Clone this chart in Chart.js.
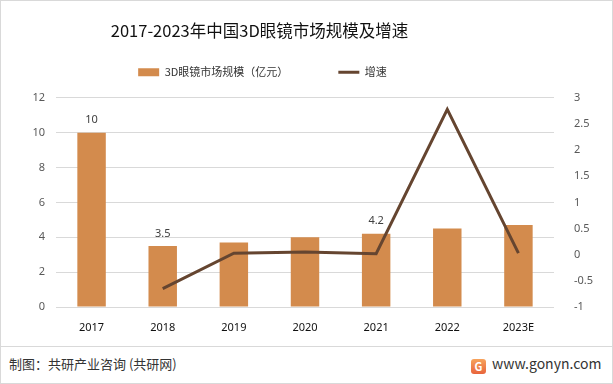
<!DOCTYPE html>
<html>
<head>
<meta charset="utf-8">
<script src="https://cdn.jsdelivr.net/npm/chart.js@4"></script>
<style>
  body { margin: 0; background: #fff; }
  .wrap { position: relative; width: 611px; height: 382px; border: 1px solid #d9d9d9; overflow: hidden; font-family: "Noto Sans CJK SC", "Noto Sans", sans-serif; }
  #box { position: absolute; left: 0; top: 0; width: 611px; height: 340px; }
  .sep { position: absolute; left: 0; right: 0; top: 345px; border-top: 1px solid #d9d9d9; }
  .src { position: absolute; left: 8px; top: 353px; font-size: 13px; color: #333; }
  .site { position: absolute; left: 470px; top: 352px; font-size: 14px; color: #333; }
  .logo { display: inline-block; width: 15px; height: 15px; border-radius: 3px; background: linear-gradient(#f7a35c, #e8643c); color: #fff; font-size: 11px; line-height: 15px; text-align: center; font-weight: bold; margin-right: 6px; vertical-align: -2px; }
</style>
</head>
<body>
<div class="wrap">
  <div id="box"><canvas id="myChart"></canvas></div>
  <div class="sep"></div>
  <div class="src">制图：共研产业咨询 (共研网)</div>
  <div class="site"><span class="logo">G</span>www.gonyn.com</div>
</div>
<script>
const years = ['2017', '2018', '2019', '2020', '2021', '2022', '2023E'];
const marketSize = [10, 3.5, 3.7, 4.0, 4.2, 4.5, 4.7];
const growth = [null, -0.65, 0.03, 0.05, 0.02, 2.78, 0.03];
const shownLabels = [true, true, false, false, true, false, false];
const leftTicks = [0, 2, 4, 6, 8, 10, 12];
const rightTicks = [-1, -0.5, 0, 0.5, 1, 1.5, 2, 2.5, 3];

// etiquetas de valor sobre algunas barras
const barLabels = {
  id: 'barLabels',
  afterDatasetsDraw(chart) {
    const ctx = chart.ctx;
    const meta = chart.getDatasetMeta(1);
    ctx.save();
    ctx.font = '11px "Noto Sans", sans-serif';
    ctx.fillStyle = '#404040';
    ctx.textAlign = 'center';
    ctx.textBaseline = 'bottom';
    meta.data.forEach((bar, i) => {
      if (shownLabels[i]) ctx.fillText(String(marketSize[i]), bar.x, bar.y - 7);
    });
    ctx.restore();
  }
};

// el título y la leyenda van un poco a la izquierda, como en el original
const shiftHeader = {
  id: 'shiftHeader',
  afterLayout(chart) {
    const move = (box, dx, dy) => {
      if (!box) return;
      box.left += dx; box.right += dx;
      box.top += dy; box.bottom += dy;
    };
    move(chart.titleBlock, -47, 17);
    move(chart.legend, -44, -10);
  }
};

new Chart(document.getElementById('myChart'), {
  data: {
    labels: years,
    datasets: [
      {
        type: 'line',
        label: '增速',
        data: growth,
        yAxisID: 'y1',
        borderColor: '#654530',
        backgroundColor: '#654530',
        borderWidth: 3,
        pointRadius: 0,
        pointStyle: 'line',
        tension: 0,
        order: 0
      },
      {
        type: 'bar',
        label: '3D眼镜市场规模（亿元）',
        data: marketSize,
        yAxisID: 'y',
        backgroundColor: '#d38b4d',
        pointStyle: 'rect',
        categoryPercentage: 1,
        barPercentage: 0.4,
        order: 1
      }
    ]
  },
  options: {
    responsive: true,
    maintainAspectRatio: false,
    animation: false,
    layout: { padding: { left: 10, right: 10, top: 0, bottom: 4 } },
    plugins: {
      title: {
        display: true,
        text: '2017-2023年中国3D眼镜市场规模及增速',
        color: '#111',
        font: { size: 16.5, family: '"Noto Sans CJK SC", sans-serif', weight: 'normal' },
        padding: { top: 3, bottom: 3 }
      },
      legend: {
        reverse: true,
        labels: {
          usePointStyle: true,
          pointStyleWidth: 21,
          boxHeight: 8,
          padding: 50,
          color: '#333',
          font: { size: 11, family: '"Noto Sans CJK SC", sans-serif' }
        }
      },
      tooltip: { enabled: false }
    },
    scales: {
      x: {
        grid: { display: false },
        border: { display: false },
        ticks: { color: '#111', font: { size: 11, family: '"Noto Sans", sans-serif' }, padding: 6 },
        afterFit(s) { s.height = 30; }
      },
      y: {
        position: 'left',
        min: 0,
        max: 12,
        afterBuildTicks(s) { s.ticks = leftTicks.map(v => ({ value: v })); },
        grid: { color: '#d9d9d9', drawTicks: false },
        border: { display: false },
        ticks: { color: '#595959', font: { size: 11, family: '"Noto Sans", sans-serif' }, padding: 11 },
        afterFit(s) { s.width = 45; }
      },
      y1: {
        position: 'right',
        min: -1,
        max: 3,
        afterBuildTicks(s) { s.ticks = rightTicks.map(v => ({ value: v })); },
        grid: { display: false },
        border: { display: false },
        ticks: {
          color: '#595959',
          font: { size: 11, family: '"Noto Sans", sans-serif' },
          padding: 12,
          callback: (v) => String(v)
        },
        afterFit(s) { s.width = 48; }
      }
    }
  },
  plugins: [barLabels, shiftHeader]
});
</script>
</body>
</html>
